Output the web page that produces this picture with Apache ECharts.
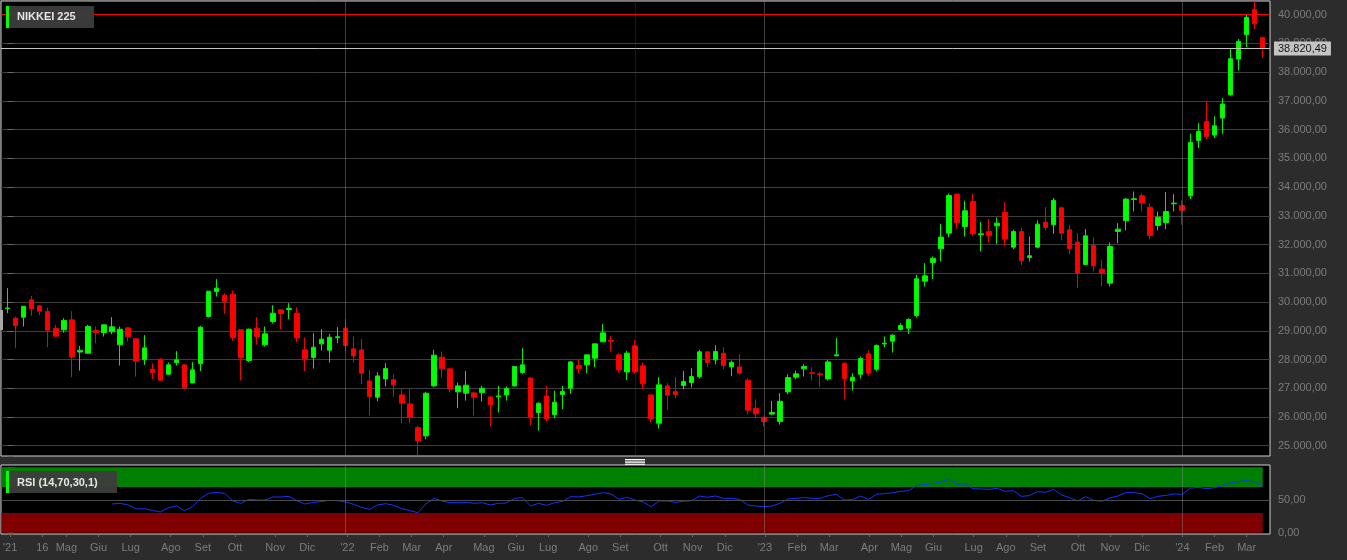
<!DOCTYPE html>
<html><head><meta charset="utf-8">
<script src="https://cdn.jsdelivr.net/npm/echarts@6/dist/echarts.min.js"></script>
<style>html,body{margin:0;padding:0;background:#2c2c2c;}#c{width:1347px;height:560px;}</style>
</head><body><div id="c"></div>
<script>
// ---- DATA (weekly candles, Friday-dated, from 2021-03-19) ----
const startDate = '2021-03-19';
const open = [29770,29438,29473,30076,29867,29670,29090,29032,29380,28260,28219,29009,28939,28962,28509,29101,28718,27999,27662,28010,
27488,27894,27813,27186,27859,29496,30367,30239,30274,29032,27964,29090,28509,29322,29728,29740,29612,28335,28068,28544,
28324,28760,29090,28370,28335,27256,26687,27325,27291,26768,26454,25631,25341,27082,28080,27674,26873,26826,26838,26850,
26699,26700,26768,27082,27546,27360,26153,26734,26084,26780,26999,27790,27813,28045,28614,28660,28161,27569,28475,27778,
26768,25782,27082,26885,27093,27198,27407,28266,27987,28219,27743,27743,27280,26304,25991,26100,25840,26873,27384,27674,
27540,27500,27325,28126,27871,27256,27488,28196,27662,28540,28637,29043,29090,29531,30727,31376,31852,32398,33756,32630,
33501,32340,32456,32653,33118,31910,32456,31551,31910,32781,32688,33280,32514,32085,31307,31968,31144,30657,32456,32827,
33570,33698,33303,32665,32769,33420,33361,33698,35624,36286,35810,36401,37214,38456,39303,40174,39210];
const high = [30483,29496,29860,30216,29900,29809,29206,29438,29682,28475,29206,29148,29220,29473,29148,29130,28742,28846,27871,28045,
27894,28289,27840,27906,29171,30378,30796,30308,30401,29040,29078,29473,29148,29891,29740,29960,29821,28765,28916,29055,
28892,29125,29403,28800,28707,27639,27558,27871,27488,27001,27001,25701,26873,28335,28277,27720,27198,27604,26860,27082,
26720,27082,27059,27755,28393,27360,26501,27082,26908,27082,27952,28010,28161,28544,29229,28823,28219,28300,28683,27894,
26768,27384,27175,27384,27604,27697,28335,28266,28498,28428,27964,28184,27349,26617,25991,26560,26826,27488,27616,27836,
27732,27570,27987,28742,27894,27523,28103,28312,28521,28800,28881,29264,29438,30947,31353,31585,32723,33768,33756,33524,
33768,32781,32885,32943,33477,32514,32595,32282,32839,33303,33617,33326,32688,32398,32537,32259,31469,32073,32746,33617,
33849,33791,33443,33152,33826,33756,33535,35857,36228,36981,36460,37098,38839,39152,40000,40464,39232];
const low = [29612,28393,29148,29519,29542,28428,28800,28939,27384,27616,28196,28567,28800,28881,27790,28625,27407,27813,27314,27256,
27465,27790,26965,27175,27593,29461,30192,29589,28649,27268,27906,28521,28451,29252,29043,29403,28602,27593,27685,28312,
27894,28567,28300,27894,27140,26060,26548,27059,26710,25782,25782,24668,25225,27036,27372,26850,26304,26571,26049,26536,
25666,26153,26571,27059,27500,25712,25527,25840,25956,26269,26803,27523,27523,27732,28614,28277,27546,27291,27500,26965,
25816,25596,26246,26652,26966,27024,27337,27732,27836,27662,27419,27477,26095,25956,25666,26060,25736,26791,27314,27407,
27268,27036,27268,28126,26617,26919,27337,27430,27581,28428,28243,29009,28893,29461,30541,30796,31411,32247,32549,32282,
32305,31760,32073,32026,31934,31841,31284,31411,31876,32491,32375,32143,31666,30483,31307,31063,30541,30541,32050,32491,
33152,33152,32189,32491,32537,33152,32688,33582,35357,35671,35706,35857,37179,38061,38874,39501,38491];
const close = [29792,29176,29854,29768,29683,29020,28812,29357,28084,28317,29148,28941,29206,29136,29055,28788,27941,28405,27546,27280,
27813,27987,27012,27639,29125,30378,30483,30018,28765,28057,29055,28800,28892,29612,29600,29775,28753,28022,28428,28707,
28776,28791,28486,28126,27523,26710,27430,27685,27117,26478,25979,25167,26826,28150,27674,26977,27082,27105,26687,27001,
26420,26734,26989,27755,27813,25979,26478,25933,26513,26885,27917,27685,28161,28544,28927,28637,27639,28219,27569,27152,
25933,27117,26757,26780,27233,27407,28266,27894,28277,27790,27894,27523,26234,26107,25840,26153,26548,27372,27500,27755,
27523,27477,27917,28161,27337,27384,28033,27523,28486,28567,28846,29183,29392,30808,30912,31527,32259,33710,32769,33176,
32375,32375,32305,32746,32189,32456,31435,31609,32711,32595,33535,32398,31852,31005,32305,31260,31005,31934,32537,33582,
33594,33443,32317,32955,33152,33443,33187,35555,35938,35764,36135,36889,38468,39071,39907,39686,38820.49];
const rsi = [null,null,null,null,null,null,null,null,null,null,null,null,null,
43.9,44.9,42.4,36.2,36.7,34.2,31.6,38.3,40.8,33.7,39.8,52.5,60.2,61.7,60.2,48.5,44.9,51.0,50.0,50.0,54.6,54.6,55.6,48.5,43.9,46.4,47.5,
49.5,49.0,46.9,43.4,38.8,35.7,42.4,44.4,41.8,36.7,33.7,30.6,43.9,52.5,48.5,45.9,46.4,46.4,44.9,45.9,42.4,44.9,45.4,52.5,53.6,40.8,
44.9,41.8,45.9,48.0,55.1,54.6,56.6,58.7,61.2,59.2,51.0,54.1,50.0,46.9,39.8,48.5,48.5,46.4,48.0,49.0,56.1,54.1,56.1,52.5,52.5,51.0,
42.4,40.8,39.8,40.8,44.9,51.5,52.5,53.6,52.5,52.5,56.6,58.7,50.0,50.5,56.1,51.0,58.7,59.7,61.2,63.3,64.3,72.4,73.5,75.0,77.5,82.1,
74.0,74.5,67.3,66.8,66.3,67.9,63.3,64.3,55.6,56.6,62.8,61.7,66.3,57.7,53.6,48.5,55.1,49.5,48.0,53.1,56.1,61.2,61.2,59.7,52.0,55.6,
57.1,59.2,58.7,67.9,69.4,67.3,68.9,71.9,76.5,78.1,80.1,77.5,71.4];
const tickIdx = [0,4,7,11,15,20,24,28,33,37,42,46,50,54,59,63,67,72,76,81,85,89,94,98,102,107,111,115,120,124,128,133,137,141,146,150,154];
const tickTxt = ["'21","16","Mag","Giu","Lug","Ago","Set","Ott","Nov","Dic","'22","Feb","Mar","Apr","Mag","Giu","Lug","Ago","Set","Ott","Nov","Dic","'23","Feb","Mar","Apr","Mag","Giu","Lug","Ago","Set","Ott","Nov","Dic","'24","Feb","Mar"];
const yearIdx = [42,94,146];
const lastPrice = 38820.49;
const resistance = 40000;

// ---- categories (week dates) ----
const cats = [];
{ const d0 = new Date(startDate + 'T12:00:00Z');
  for (let i = 0; i < close.length; i++) { const d = new Date(d0.getTime() + i*7*86400000); cats.push(d.toISOString().slice(0,10)); } }
const tickMap = {}; tickIdx.forEach((k,j)=>{ tickMap[k] = tickTxt[j]; });

function itNum(v){
  const s = Math.abs(v).toFixed(2); let [a,b] = s.split('.');
  a = a.replace(/\B(?=(\d{3})+(?!\d))/g, '.');
  return (v<0?'-':'') + a + ',' + b;
}

// ---- layout ----
const S = 8.0462, X0 = 7.5, PL = 1, PW = 1269;
const xMin = -(X0-PL)/S, xMax = (PL+PW-X0)/S;
const inL = X0 - S/2, inW = S*close.length;
const yMax = 40476.8, yMin = 24641.5;
const FONT = 'Liberation Sans, Arial, sans-serif';
const gridLine = 'rgba(140,140,140,0.45)';

const chart = echarts.init(document.getElementById('c'), null, {renderer:'canvas'});
const candleData = close.map((c,i)=>[open[i], c, low[i], high[i]]);
const rsiData = []; rsi.forEach((v,i)=>{ if (v!=null) rsiData.push([i, v]); });
const yearLines = yearIdx.map(i=>({xAxis:i, lineStyle:{color:gridLine, type:'solid', width:1}, label:{show:false}}));

chart.setOption({
  backgroundColor:'#2c2c2c',
  animation:false,
  textStyle:{fontFamily:FONT},
  grid:[
    {left:PL, top:1, width:PW, height:455, show:true, backgroundColor:'#000', borderColor:'#d0d0d4', borderWidth:1},
    {left:inL, top:1, width:inW, height:455},
    {left:PL, top:465, width:PW, height:69, show:true, backgroundColor:'#000', borderColor:'#d0d0d4', borderWidth:1},
    {left:inL, top:465, width:inW, height:69}
  ],
  xAxis:[
    {gridIndex:0, type:'value', min:xMin, max:xMax, show:false},
    {gridIndex:1, type:'category', data:cats, boundaryGap:true, show:false},
    {gridIndex:2, type:'value', min:xMin, max:xMax, show:false},
    {gridIndex:3, type:'category', data:cats, boundaryGap:true,
      axisLine:{show:false},
      axisTick:{show:true, alignWithLabel:true, length:3, interval:(i)=>tickMap[i]!==undefined, lineStyle:{color:'#6a6a6a'}},
      axisLabel:{show:true, interval:(i)=>tickMap[i]!==undefined, formatter:(v,i)=>tickMap[i]||'', color:'#7c7c7c', fontSize:11, margin:8, fontFamily:FONT},
      splitLine:{show:false}}
  ],
  yAxis:[
    {gridIndex:0, type:'value', position:'right', min:yMin, max:yMax, splitNumber:16,
      axisLine:{show:false},
      axisTick:{show:true, length:6, lineStyle:{color:'#6a6a6a'}},
      axisLabel:{margin:8, color:'#7c7c7c', fontSize:11, fontFamily:FONT, formatter:(v)=> (Math.abs(v%1000)<1e-6 ? itNum(v) : '')},
      splitLine:{show:true, showMinLine:false, showMaxLine:false, lineStyle:{color:'#3e3e3e', width:1}}},
    {gridIndex:1, type:'value', min:yMin, max:yMax, show:false},
    {gridIndex:2, type:'value', position:'right', min:-2, max:103.5, splitNumber:2,
      axisLine:{show:false},
      axisTick:{show:true, length:6, lineStyle:{color:'#6a6a6a'}},
      axisLabel:{margin:8, color:'#7c7c7c', fontSize:11, fontFamily:FONT, formatter:(v)=> (v===0||v===50 ? itNum(v) : '')},
      splitLine:{show:false}},
    {gridIndex:3, type:'value', min:0, max:1, show:false}
  ],
  series:[
    {type:'line', xAxisIndex:0, yAxisIndex:0, data:[], silent:true,
      markLine:{symbol:'none', silent:true, animation:false, data:[
        ...yearLines,
        {xAxis:78, lineStyle:{color:'rgba(140,140,140,0.18)', type:'solid', width:1}, label:{show:false}},
        {yAxis:resistance, lineStyle:{color:'#ff0000', type:'solid', width:1.2}, label:{show:false}},
        {yAxis:lastPrice, lineStyle:{color:'#c4c4c4', type:'solid', width:1},
          label:{show:true, position:'end', distance:4, formatter:itNum(lastPrice), backgroundColor:'#c4c4c4', color:'#161616', fontSize:11, fontFamily:FONT, padding:[2,4,1,4]}}
      ]}},
    {type:'candlestick', xAxisIndex:1, yAxisIndex:1, data:candleData, barWidth:5,
      itemStyle:{color:'#00ff00', color0:'#ff0000', borderColor:'#00f000', borderColor0:'#f00000', borderWidth:1}},
    {type:'line', xAxisIndex:2, yAxisIndex:2, data:rsiData, symbol:'none', showSymbol:false, silent:true,
      lineStyle:{color:'#1434ff', width:1},
      markArea:{silent:true, data:[
        [{xAxis:-0.75, yAxis:70, itemStyle:{color:'#008000', opacity:1}}, {xAxis:156, yAxis:100}],
        [{xAxis:-0.75, yAxis:0, itemStyle:{color:'#800000', opacity:1}}, {xAxis:156, yAxis:30}]
      ]},
      markLine:{symbol:'none', silent:true, data:[
        {yAxis:50, lineStyle:{color:'#4a4a4a', type:'solid', width:1}, label:{show:false}},
        ...yearLines
      ]}}
  ],
  graphic:[
    {type:'rect', z:50, shape:{x:6, y:6, width:88, height:22}, style:{fill:'rgba(60,60,60,0.96)'}},
    {type:'rect', z:51, shape:{x:6, y:6, width:3, height:22}, style:{fill:'#00ff00'}},
    {type:'text', z:52, x:17, y:17, style:{text:'NIKKEI 225', fill:'#e6e6e6', font:'bold 11px '+FONT, textVerticalAlign:'middle', verticalAlign:'middle'}},
    {type:'rect', z:50, shape:{x:6, y:471, width:111, height:22}, style:{fill:'rgba(60,60,60,0.96)'}},
    {type:'rect', z:51, shape:{x:6, y:471, width:3, height:22}, style:{fill:'#00ff00'}},
    {type:'text', z:52, x:17, y:482.5, style:{text:'RSI (14,70,30,1)', fill:'#e6e6e6', font:'bold 11px '+FONT, textVerticalAlign:'middle', verticalAlign:'middle'}},
    {type:'rect', z:50, shape:{x:625, y:459, width:20, height:1}, style:{fill:'#ffffff'}},
    {type:'rect', z:50, shape:{x:625, y:460.6, width:20, height:1}, style:{fill:'#ffffff'}},
    {type:'rect', z:50, shape:{x:625, y:462.2, width:20, height:1}, style:{fill:'#ffffff'}},
    {type:'rect', z:50, shape:{x:625, y:463.8, width:20, height:1}, style:{fill:'#ffffff'}},
    {type:'rect', z:50, shape:{x:0, y:310, width:3, height:20}, style:{fill:'#a8a8a8'}}
  ]
});
</script></body></html>
